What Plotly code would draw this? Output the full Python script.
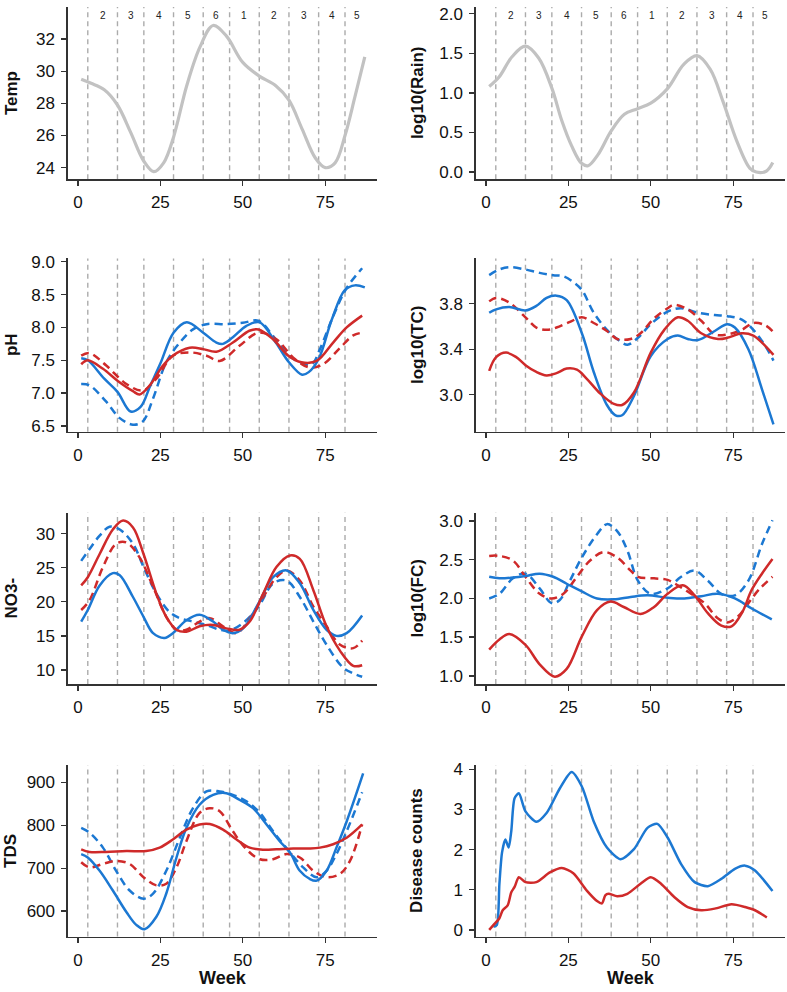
import plotly.graph_objects as go

# ---------------- data ----------------
season_breaks = [3, 12, 20, 29, 38, 46, 55, 64, 73, 81]
season_label_weeks = [7.5, 16, 24.5, 33.5, 42, 50.5, 59.5, 68.5, 77, 84.5]
season_labels = ["2", "3", "4", "5", "6", "1", "2", "3", "4", "5"]

temp_weeks = [1, 4, 8, 12, 16, 20, 23, 26, 29, 33, 37, 41, 45, 50, 55, 60, 64, 68, 72, 75, 78, 81, 84, 87]
temp_vals = [29.5, 29.25, 28.85, 27.9, 26.2, 24.4, 23.75, 24.3, 25.9, 29.1, 31.5, 32.85, 32.2, 30.55,
             29.7, 29.1, 28.2, 26.4, 24.6, 24.0, 24.3, 26.0, 28.4, 30.9]

rain_weeks = [1, 4, 8, 12, 16, 20, 23, 26, 29, 31, 34, 38, 42, 46, 50, 55, 60, 64, 68, 72, 76, 80, 82, 85, 87]
rain_vals = [1.08, 1.20, 1.46, 1.59, 1.44, 1.06, 0.65, 0.33, 0.11, 0.08, 0.22, 0.52, 0.73, 0.80, 0.87,
             1.05, 1.36, 1.47, 1.30, 0.88, 0.40, 0.05, 0.0, 0.01, 0.12]

ph_bs_w = [1, 3, 8, 12, 16, 19, 22, 25, 29, 33, 38, 42, 44, 47, 51, 55, 60, 64, 68, 70, 73, 77, 81, 84, 87]
ph_bs_v = [7.53, 7.50, 7.22, 7.02, 6.72, 6.79, 7.12, 7.45, 7.92, 8.08, 7.92, 7.77, 7.75, 7.85, 8.02, 8.08,
           7.77, 7.47, 7.28, 7.32, 7.52, 8.12, 8.57, 8.64, 8.61]
ph_bd_w = [1, 3.5, 8.6, 12.7, 16.7, 19.7, 22.8, 26.8, 30.9, 34.9, 39, 45, 50, 54.8, 59.2, 63.8, 67.3,
           70.9, 73.4, 77.4, 81.5, 86.2]
ph_bd_v = [7.14, 7.12, 6.87, 6.62, 6.52, 6.57, 6.92, 7.47, 7.77, 7.97, 8.05, 8.05, 8.07, 8.10, 7.87, 7.58,
           7.47, 7.44, 7.67, 8.17, 8.60, 8.90]
ph_rs_w = [1, 3, 7.6, 12, 16.7, 18.7, 21.8, 25.8, 28.8, 33.9, 38, 42, 47, 52, 54.8, 59.2, 63.8, 67.8,
           72.4, 77.4, 81.5, 86.2]
ph_rs_v = [7.44, 7.50, 7.37, 7.19, 7.03, 6.98, 7.12, 7.42, 7.57, 7.69, 7.67, 7.63, 7.77, 7.95, 7.97, 7.82,
           7.57, 7.47, 7.49, 7.77, 8.0, 8.18]
ph_rd_w = [1, 3.5, 8.6, 14.7, 19.7, 23.8, 28.8, 33.9, 39, 43, 49, 54.8, 60.2, 65.3, 70.3, 74.4, 79.5,
           83.5, 86.2]
ph_rd_v = [7.57, 7.61, 7.42, 7.14, 7.04, 7.22, 7.57, 7.62, 7.57, 7.49, 7.72, 7.92, 7.82, 7.54, 7.39, 7.44,
           7.69, 7.88, 7.92]

tc_bs_w = [1, 3.1, 7.1, 12, 15.3, 18.4, 21.4, 24.5, 29.1, 32.7, 36.7, 39.3, 41.3, 44.9, 50, 55.1, 58.2,
           61.2, 64.3, 69.4, 73.2, 75.5, 79.6, 83.7, 87.2]
tc_bs_v = [3.72, 3.75, 3.77, 3.74, 3.78, 3.85, 3.87, 3.83, 3.54, 3.20, 2.91, 2.82, 2.82, 2.99, 3.34, 3.49,
           3.52, 3.49, 3.48, 3.56, 3.62, 3.59, 3.40, 3.05, 2.74]
tc_bd_w = [1, 4.1, 7.1, 12, 16.3, 20.4, 23.5, 26.5, 29.1, 32.7, 36.7, 39.8, 42.9, 46.1, 50, 55.1, 59.2,
           64.3, 69.4, 73.2, 77.6, 81.1, 84.7, 87.2]
tc_bd_v = [4.05, 4.10, 4.12, 4.10, 4.07, 4.05, 4.04, 3.99, 3.92, 3.72, 3.57, 3.49, 3.44, 3.50, 3.62, 3.73,
           3.76, 3.72, 3.70, 3.69, 3.66, 3.57, 3.43, 3.30]
tc_rs_w = [1, 3.1, 6.1, 9.2, 12, 15.3, 18.4, 21.4, 24.5, 27.6, 30.6, 34.7, 38.8, 41.3, 44.9, 50, 54.1,
           58.2, 61.2, 65.3, 70.4, 73.2, 77.6, 81.1, 84.7, 87.2]
tc_rs_v = [3.21, 3.33, 3.37, 3.33, 3.26, 3.20, 3.17, 3.19, 3.23, 3.22, 3.14, 3.01, 2.92, 2.91, 3.02, 3.37,
           3.57, 3.68, 3.65, 3.54, 3.49, 3.50, 3.54, 3.52, 3.43, 3.35]
tc_rd_w = [1, 3.1, 7.1, 12, 15.3, 18.4, 21.4, 25.5, 29.1, 32.7, 36.7, 39.8, 43.9, 46.9, 51, 55.1, 57.1,
           61.2, 65.3, 69.4, 73.2, 77.6, 81.1, 84.7, 87.2]
tc_rd_v = [3.82, 3.85, 3.81, 3.68, 3.59, 3.57, 3.59, 3.64, 3.68, 3.63, 3.56, 3.49, 3.49, 3.54, 3.67, 3.76,
           3.79, 3.75, 3.65, 3.53, 3.53, 3.57, 3.63, 3.61, 3.55]

no3_bs_w = [1, 3, 6.6, 10.6, 12.7, 16.7, 19.9, 22.8, 26.3, 28.8, 32.9, 36.9, 41, 44, 47, 50.1, 54.8, 59.2,
            63.3, 67.3, 71.4, 75.4, 78.4, 81.5, 86.2]
no3_bs_v = [17.1, 18.8, 22.4, 24.2, 23.9, 20.7, 17.8, 15.4, 14.7, 15.4, 17.3, 18.1, 17.1, 15.9, 15.4, 16.1,
            19.8, 23.6, 24.6, 22.7, 18.8, 15.9, 15.0, 15.4, 18.0]
no3_bd_w = [1, 3.5, 6.6, 9.6, 12.7, 16.7, 19.9, 23.8, 27.8, 30.9, 34.9, 39, 43, 46, 50.1, 54.8, 59.2,
            63.3, 67.3, 71.4, 75.4, 80.5, 83.5, 86.2]
no3_bd_v = [26.0, 27.7, 29.7, 31.0, 30.6, 28.5, 25.1, 21.2, 18.5, 17.6, 17.1, 16.6, 15.9, 15.8, 16.9, 19.3,
            22.7, 23.1, 20.7, 17.1, 13.7, 10.3, 9.5, 9.0]
no3_rs_w = [1, 3, 6.6, 10.6, 13.7, 16.7, 19.9, 23.8, 26.8, 29.9, 32.9, 36.9, 41, 45, 49, 52.1, 56.2, 60.2,
            64.3, 67.3, 71.4, 75.4, 79.5, 83.5, 86.2]
no3_rs_v = [22.4, 23.6, 27.0, 30.6, 31.9, 30.9, 27.0, 21.2, 17.8, 15.9, 15.6, 16.4, 16.6, 16.1, 15.9, 17.1,
            21.2, 25.1, 26.8, 26.3, 21.7, 16.4, 12.8, 10.6, 10.7]
no3_rd_w = [1, 3.5, 7.6, 11.6, 14.7, 18.7, 22.8, 26.8, 29.9, 32.9, 36.9, 40, 44, 48.1, 52.1, 56.2, 60.2,
            63.3, 67.3, 71.4, 75.4, 79.5, 83.5, 86.2]
no3_rd_v = [18.8, 20.2, 25.1, 28.5, 28.7, 26.5, 22.2, 17.8, 15.9, 15.9, 17.1, 17.6, 16.4, 15.4, 17.6, 20.7,
            23.6, 24.6, 23.1, 19.3, 16.4, 13.7, 13.2, 14.3]

fc_bs_w = [1, 4.1, 8.2, 12, 16.3, 20.4, 24.5, 29.1, 33.7, 38.8, 43.9, 49, 55.1, 60.2, 65.3, 70.4, 75.5,
           80.6, 86.7]
fc_bs_v = [2.28, 2.26, 2.27, 2.29, 2.32, 2.28, 2.19, 2.09, 2.0, 1.99, 2.02, 2.04, 2.01, 2.0, 2.03, 2.06,
           2.0, 1.87, 1.73]
fc_bd_w = [1, 4.1, 8.2, 12, 16.3, 19.9, 22.4, 25.5, 29.1, 33.7, 36.7, 39.8, 42.9, 46.1, 50, 55.1, 59.2,
           63.3, 67.3, 71.4, 75.5, 79.6, 83.7, 86.9]
fc_bd_v = [2.0, 2.06, 2.26, 2.32, 2.13, 1.94, 1.98, 2.23, 2.53, 2.83, 2.96, 2.87, 2.62, 2.23, 2.06, 2.13,
           2.28, 2.36, 2.23, 2.06, 2.04, 2.23, 2.70, 3.01]
fc_rs_w = [1, 4.1, 7.1, 12, 16.3, 20.9, 24.5, 29.1, 33.7, 37.8, 41.8, 46.9, 51, 55.1, 59.7, 63.3, 67.3,
           71.4, 74.5, 77.6, 80.6, 83.7, 86.9]
fc_rs_v = [1.34, 1.47, 1.54, 1.40, 1.15, 0.99, 1.09, 1.51, 1.85, 1.96, 1.89, 1.80, 1.89, 2.06, 2.17, 2.04,
           1.81, 1.65, 1.64, 1.81, 2.11, 2.32, 2.51]
fc_rd_w = [1, 4.1, 8.2, 12, 16.3, 19.9, 23.5, 27.6, 31.6, 35.7, 39.8, 43.9, 46.1, 51, 55.1, 58.2, 62.2,
           66.3, 70.4, 73.2, 76.5, 79.6, 82.7, 86.9]
fc_rd_v = [2.55, 2.55, 2.49, 2.28, 2.06, 2.0, 2.06, 2.28, 2.49, 2.60, 2.53, 2.36, 2.28, 2.26, 2.24, 2.17,
           2.06, 1.94, 1.74, 1.69, 1.77, 1.94, 2.11, 2.28]

tds_bs_w = [1, 3, 6.6, 10.6, 14.7, 17.7, 20.2, 23.8, 26.8, 29.9, 32.9, 36.9, 41, 45, 49.1, 53.1, 57.2,
            61.2, 64.3, 67.3, 70.3, 72.4, 75.4, 78.4, 81.5, 86.5]
tds_bs_v = [733, 725, 694, 648, 598, 568, 558, 587, 641, 725, 794, 848, 871, 875, 859, 840, 802, 763, 737,
            694, 675, 671, 694, 748, 809, 921]
tds_bd_w = [1, 3.5, 7.6, 11.6, 15.7, 19.9, 22.8, 26.8, 30.9, 34.9, 39, 43, 47, 51.1, 55.2, 59.2, 64.3,
            68.3, 72.4, 75.4, 78.4, 81.5, 86.2]
tds_bd_v = [794, 783, 748, 694, 648, 629, 641, 694, 771, 840, 879, 879, 871, 856, 829, 786, 737, 702, 679,
            694, 733, 786, 877]
tds_rs_w = [1, 3.5, 8.6, 14.7, 20.7, 24.8, 28.8, 32.9, 36.9, 40, 44, 48.1, 52.1, 56.2, 60.2, 65.3, 70.3,
            73.4, 77.4, 81.5, 86.2]
tds_rs_v = [744, 738, 738, 740, 740, 748, 767, 790, 802, 803, 790, 767, 748, 743, 744, 746, 746, 748, 756,
            771, 802]
tds_rd_w = [1, 3.5, 7.6, 11.6, 15.7, 19.9, 23.8, 26.8, 29.9, 32.9, 36.9, 40, 43, 47, 51.1, 55.2, 59.2,
            63.3, 67.3, 71.4, 75.4, 79.5, 82.5, 86.2]
tds_rd_v = [714, 702, 710, 717, 710, 679, 660, 664, 702, 763, 829, 840, 833, 786, 744, 721, 721, 733, 725,
            694, 679, 687, 717, 802]

dis_b_w = [2.3, 3.3, 4.1, 4.9, 5.9, 6.9, 7.7, 8.7, 10, 12, 15.3, 18.4, 22.4, 26, 29.1, 32.7, 36.7, 40.8,
           44.9, 49, 52, 55.1, 59.2, 63.3, 67.3, 71.4, 75.5, 78.6, 81.6, 86.9]
dis_b_v = [0.08, 0.12, 1.15, 1.93, 2.25, 2.05, 2.46, 3.28, 3.40, 2.95, 2.69, 2.91, 3.52, 3.93, 3.57, 2.70,
           2.05, 1.76, 2.01, 2.54, 2.64, 2.30, 1.64, 1.19, 1.09, 1.27, 1.52, 1.60, 1.48, 0.97]
dis_r_w = [1, 2.6, 4.1, 5.1, 6.6, 7.7, 8.7, 10, 12, 15.3, 19.4, 23, 26.5, 30.6, 33.7, 35.2, 36.2, 37.2,
           39.8, 42.9, 46.9, 50, 53.1, 57.1, 61.2, 65.3, 69.4, 74.5, 78.6, 81.6, 85.2]
dis_r_v = [0, 0.15, 0.29, 0.49, 0.61, 0.94, 1.07, 1.31, 1.19, 1.19, 1.43, 1.54, 1.41, 0.98, 0.72, 0.66,
           0.86, 0.90, 0.84, 0.90, 1.15, 1.31, 1.15, 0.82, 0.57, 0.49, 0.53, 0.64, 0.57, 0.49, 0.31]

# ---------------- styling ----------------
BLUE = "#1C78D2"
RED = "#CF2A2A"
GREY = "#C2C2C2"
AXC = "#333333"
FONT = "Liberation Sans, Arial, sans-serif"
DASH = "8px,5px"

W, H = 787, 992
col_px = [(68, 377), (476, 785)]
row_px = [(1, 175), (255, 430), (512, 685), (767, 940)]
x_range = [-3.0, 90.7]


def fx(px):
    return px / W


def fy(py):
    return 1 - py / H


panels = [
    ("Temp", [23.28, 34.0], [24, 26, 28, 30, 32], None,
     [(temp_weeks, temp_vals, GREY, "solid", 3.2, 1.0)]),
    ("log10(Rain)", [-0.091, 2.085], [0, 0.5, 1, 1.5, 2], ".1f",
     [(rain_weeks, rain_vals, GREY, "solid", 3.2, 1.0)]),
    ("pH", [6.414, 9.05], [6.5, 7.0, 7.5, 8.0, 8.5, 9.0], ".1f",
     [(ph_bd_w, ph_bd_v, BLUE, DASH, 2.5, 1.0), (ph_rd_w, ph_rd_v, RED, DASH, 2.5, 1.0),
      (ph_bs_w, ph_bs_v, BLUE, "solid", 2.5, 1.0), (ph_rs_w, ph_rs_v, RED, "solid", 2.5, 1.0)]),
    ("log10(TC)", [2.676, 4.197], [3.0, 3.4, 3.8], ".1f",
     [(tc_bd_w, tc_bd_v, BLUE, DASH, 2.5, 1.0), (tc_rd_w, tc_rd_v, RED, DASH, 2.5, 1.0),
      (tc_bs_w, tc_bs_v, BLUE, "solid", 2.5, 1.0), (tc_rs_w, tc_rs_v, RED, "solid", 2.5, 1.0)]),
    ("NO3-", [7.93, 33.04], [10, 15, 20, 25, 30], None,
     [(no3_bd_w, no3_bd_v, BLUE, DASH, 2.5, 1.0), (no3_rd_w, no3_rd_v, RED, DASH, 2.5, 1.0),
      (no3_bs_w, no3_bs_v, BLUE, "solid", 2.5, 1.0), (no3_rs_w, no3_rs_v, RED, "solid", 2.5, 1.0)]),
    ("log10(FC)", [0.894, 3.106], [1.0, 1.5, 2.0, 2.5, 3.0], ".1f",
     [(fc_bd_w, fc_bd_v, BLUE, DASH, 2.5, 1.0), (fc_rd_w, fc_rd_v, RED, DASH, 2.5, 1.0),
      (fc_bs_w, fc_bs_v, BLUE, "solid", 2.5, 1.0), (fc_rs_w, fc_rs_v, RED, "solid", 2.5, 1.0)]),
    ("TDS", [540.8, 940], [600, 700, 800, 900], None,
     [(tds_bd_w, tds_bd_v, BLUE, DASH, 2.5, 1.0), (tds_rd_w, tds_rd_v, RED, DASH, 2.5, 1.0),
      (tds_bs_w, tds_bs_v, BLUE, "solid", 2.5, 1.0), (tds_rs_w, tds_rs_v, RED, "solid", 2.5, 1.0)]),
    ("Disease counts", [-0.164, 4.098], [0, 1, 2, 3, 4], None,
     [(dis_b_w, dis_b_v, BLUE, "solid", 2.5, 0.7), (dis_r_w, dis_r_v, RED, "solid", 2.5, 0.7)]),
]

fig = go.Figure()
layout = dict(width=W, height=H, margin=dict(l=0, r=0, t=0, b=0, pad=0),
              paper_bgcolor="white", plot_bgcolor="white", showlegend=False,
              hovermode=False,
              font=dict(family=FONT, color="#111111"))
shapes, annotations = [], []

for i, (title, yr, tv, tf, series) in enumerate(panels):
    r, c = divmod(i, 2)
    n = i + 1
    xs = "" if n == 1 else str(n)
    x0p, x1p = col_px[c]
    y0p, y1p = row_px[r]
    xdom = [fx(x0p), fx(x1p)]
    ydom = [fy(y1p), fy(y0p)]
    axis_common = dict(showgrid=False, zeroline=False, showline=True, linecolor=AXC, linewidth=1.6,
                       ticks="outside", ticklen=5, tickwidth=1.4, tickcolor=AXC,
                       tickfont=dict(size=17, family=FONT, color="#111111"))
    layout["xaxis" + xs] = dict(domain=xdom, range=x_range, anchor="y" + xs,
                                tickvals=[0, 25, 50, 75], ticklabelstandoff=2, **axis_common)
    layout["yaxis" + xs] = dict(domain=ydom, range=yr, anchor="x" + xs,
                                tickvals=tv, tickformat=tf, ticklabelstandoff=3, **axis_common)
    for wk in season_breaks:
        shapes.append(dict(type="line", xref="x" + xs, yref="y" + xs + " domain",
                           x0=wk, x1=wk, y0=0, y1=1, layer="below",
                           line=dict(color="#ABABAB", width=1.4, dash="5px,4px")))
    for (wx, wy, col, dash, lw, sm) in series:
        fig.add_trace(go.Scatter(x=wx, y=wy, mode="lines", xaxis="x" + xs, yaxis="y" + xs,
                                 line=dict(color=col, width=lw, dash=dash, shape="spline",
                                           smoothing=sm)))
    title_x = 11 if c == 0 else 417
    annotations.append(dict(text="<b>%s</b>" % title, xref="paper", yref="paper",
                            x=fx(title_x), y=fy((y0p + y1p) / 2), textangle=-90,
                            showarrow=False, xanchor="center", yanchor="middle",
                            font=dict(size=17, family=FONT, color="#111111")))
    if r == 0:
        for lw_, lab in zip(season_label_weeks, season_labels):
            annotations.append(dict(text=lab, xref="x" + xs, yref="paper",
                                    x=lw_, y=fy(10), showarrow=False, xanchor="center",
                                    yanchor="middle",
                                    font=dict(size=10, family=FONT, color="#222222")))
    if r == 3:
        annotations.append(dict(text="<b>Week</b>", xref="paper", yref="paper",
                                x=fx((x0p + x1p) / 2), y=fy(982), showarrow=False,
                                xanchor="center", yanchor="middle",
                                font=dict(size=18, family=FONT, color="#111111")))

layout["shapes"] = shapes
layout["annotations"] = annotations
fig.update_layout(**layout)
# the page body has a default 8px margin; remove it so the figure fills the window exactly
fig.write_html("out.html", config={"displayModeBar": False, "staticPlot": True},
               post_script="document.body.style.margin='0px';")
